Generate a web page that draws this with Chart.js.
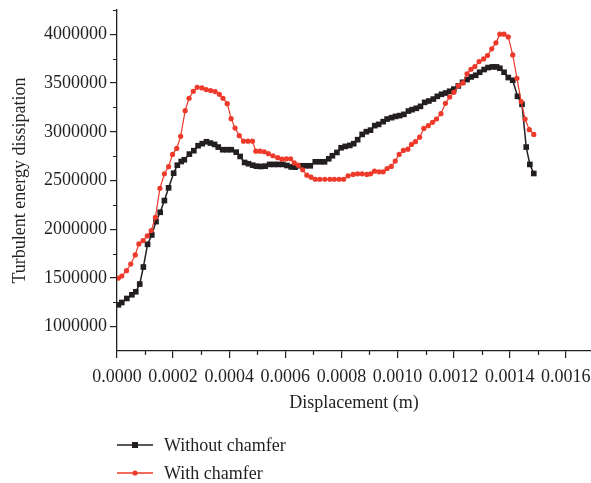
<!DOCTYPE html>
<html>
<head>
<meta charset="utf-8">
<title>Turbulent energy dissipation vs displacement</title>
<script src="https://cdn.jsdelivr.net/npm/chart.js@4/dist/chart.umd.min.js"></script>
<style>
  html, body { margin: 0; padding: 0; background: #ffffff; }
  #wrap { position: relative; width: 591px; height: 483px; }
  #chart { position: absolute; left: 0; top: 0; }
  .key { position: absolute; left: 117px; height: 20px; display: flex; align-items: center;
         font-family: "Liberation Serif", "Times New Roman", serif; font-size: 18px; color: #231f20;
         white-space: nowrap; }
  .key svg { display: block; margin-right: 11px; }
</style>
</head>
<body>
<div id="wrap">
  <canvas id="chart" width="591" height="483"></canvas>
  <div class="key" style="top:435px">
    <svg width="36" height="10"><line x1="0" y1="5" x2="36" y2="5" stroke="#231f20" stroke-width="1.5"/><rect x="15" y="2" width="6" height="6" fill="#231f20"/></svg>
    <span>Without chamfer</span>
  </div>
  <div class="key" style="top:463px">
    <svg width="36" height="10"><line x1="0" y1="5" x2="36" y2="5" stroke="#ee3a2a" stroke-width="1.3"/><circle cx="18" cy="5" r="2.6" fill="#ee3a2a"/></svg>
    <span>With chamfer</span>
  </div>
</div>
<script>
// Displacement (m) and turbulent energy dissipation for the plain edge
const displacementWithout = [
  0.000005, 0.000017, 0.000035, 0.000053, 0.000067, 0.000081, 0.000094, 0.000109, 0.000124, 0.000139,
  0.000154, 0.000169, 0.000184, 0.000202, 0.000215, 0.000229, 0.000240, 0.000258, 0.000274, 0.000289,
  0.000304, 0.000319, 0.000333, 0.000348, 0.000361, 0.000377, 0.000392, 0.000407, 0.000425, 0.000439,
  0.000455, 0.000469, 0.000484, 0.000497, 0.000513, 0.000528, 0.000544, 0.000560, 0.000575, 0.000591,
  0.000606, 0.000621, 0.000635, 0.000653, 0.000671, 0.000689, 0.000707, 0.000725, 0.000740, 0.000755,
  0.000768, 0.000784, 0.000799, 0.000814, 0.000830, 0.000844, 0.000858, 0.000874, 0.000889, 0.000904,
  0.000919, 0.000933, 0.000949, 0.000963, 0.000979, 0.000993, 0.001008, 0.001023, 0.001039, 0.001052,
  0.001067, 0.001082, 0.001097, 0.001112, 0.001128, 0.001142, 0.001157, 0.001172, 0.001186, 0.001201,
  0.001217, 0.001232, 0.001248, 0.001263, 0.001279, 0.001293, 0.001309, 0.001323, 0.001339, 0.001353,
  0.001365, 0.001380, 0.001395, 0.001411, 0.001428, 0.001444, 0.001459, 0.001472, 0.001486
];
const dissipationWithout = [
  1224000, 1248000, 1289000, 1327000, 1358000, 1437000, 1612000, 1845000, 1941000, 2078000,
  2174000, 2294000, 2425000, 2575000, 2657000, 2695000, 2713000, 2771000, 2806000, 2857000,
  2878000, 2898000, 2884000, 2870000, 2843000, 2816000, 2816000, 2816000, 2791000, 2747000,
  2685000, 2672000, 2657000, 2647000, 2644000, 2647000, 2665000, 2665000, 2665000, 2665000,
  2654000, 2639000, 2637000, 2651000, 2651000, 2651000, 2692000, 2692000, 2692000, 2723000,
  2754000, 2788000, 2836000, 2850000, 2860000, 2878000, 2919000, 2973000, 3001000, 3017000,
  3063000, 3076000, 3104000, 3131000, 3145000, 3158000, 3166000, 3179000, 3213000, 3227000,
  3241000, 3261000, 3302000, 3316000, 3336000, 3364000, 3385000, 3398000, 3416000, 3438000,
  3471000, 3508000, 3536000, 3563000, 3580000, 3611000, 3639000, 3659000, 3666000, 3666000,
  3652000, 3611000, 3557000, 3529000, 3364000, 3282000, 2843000, 2665000, 2572000
];

// Displacement (m) and turbulent energy dissipation for the chamfered edge
const displacementWith = [
  0.000005, 0.000017, 0.000034, 0.000049, 0.000065, 0.000078, 0.000093, 0.000108, 0.000122, 0.000137,
  0.000153, 0.000169, 0.000184, 0.000198, 0.000213, 0.000227, 0.000243, 0.000257, 0.000272, 0.000286,
  0.000303, 0.000318, 0.000334, 0.000350, 0.000365, 0.000378, 0.000393, 0.000407, 0.000421, 0.000436,
  0.000451, 0.000467, 0.000483, 0.000495, 0.000510, 0.000525, 0.000540, 0.000556, 0.000573, 0.000588,
  0.000604, 0.000619, 0.000632, 0.000646, 0.000662, 0.000677, 0.000692, 0.000707, 0.000723, 0.000741,
  0.000759, 0.000775, 0.000792, 0.000808, 0.000824, 0.000842, 0.000858, 0.000874, 0.000891, 0.000904,
  0.000918, 0.000934, 0.000949, 0.000963, 0.000978, 0.000992, 0.001006, 0.001021, 0.001037, 0.001050,
  0.001064, 0.001079, 0.001094, 0.001110, 0.001125, 0.001139, 0.001155, 0.001171, 0.001186, 0.001201,
  0.001217, 0.001233, 0.001248, 0.001262, 0.001276, 0.001291, 0.001307, 0.001321, 0.001336, 0.001351,
  0.001365, 0.001380, 0.001395, 0.001411, 0.001426, 0.001441, 0.001455, 0.001470, 0.001486
];
const dissipationWith = [
  1499000, 1520000, 1574000, 1643000, 1736000, 1849000, 1883000, 1931000, 1986000, 2122000,
  2420000, 2569000, 2642000, 2768000, 2829000, 2953000, 3217000, 3344000, 3416000, 3457000,
  3450000, 3433000, 3423000, 3413000, 3385000, 3344000, 3289000, 3135000, 3038000, 2960000,
  2904000, 2904000, 2904000, 2801000, 2801000, 2795000, 2775000, 2754000, 2734000, 2719000,
  2722000, 2723000, 2680000, 2657000, 2610000, 2555000, 2534000, 2513000, 2513000, 2513000,
  2513000, 2513000, 2513000, 2513000, 2548000, 2562000, 2569000, 2569000, 2562000, 2569000,
  2596000, 2589000, 2589000, 2623000, 2644000, 2699000, 2768000, 2809000, 2822000, 2870000,
  2898000, 2945000, 3035000, 3063000, 3097000, 3131000, 3186000, 3292000, 3357000, 3405000,
  3474000, 3502000, 3595000, 3642000, 3670000, 3721000, 3748000, 3783000, 3851000, 3913000,
  4002000, 4002000, 3974000, 3789000, 3549000, 3310000, 3131000, 3022000, 2973000
];

// Labelled (major) and unlabelled (minor) tick positions
const xMajorTicks = [0, 0.0002, 0.0004, 0.0006, 0.0008, 0.0010, 0.0012, 0.0014, 0.0016];
const xMinorTicks = [0.0001, 0.0003, 0.0005, 0.0007, 0.0009, 0.0011, 0.0013, 0.0015];
const yMajorTicks = [1000000, 1500000, 2000000, 2500000, 3000000, 3500000, 4000000];
const yMinorTicks = [1250000, 1750000, 2250000, 2750000, 3250000, 3750000, 4250000];

const INK = '#231f20';
const RED = '#ee3a2a';
const FONT = '"Liberation Serif", "Times New Roman", serif';

const pairs = (xs, ys) => xs.map((x, i) => ({ x, y: ys[i] }));

// Short outward ticks between the labelled ones
const minorTickPlugin = {
  id: 'minorTicks',
  afterDraw(chart) {
    const { ctx, chartArea, scales } = chart;
    ctx.save();
    ctx.strokeStyle = INK;
    ctx.lineWidth = 1.2;
    ctx.beginPath();
    xMinorTicks.forEach(v => {
      const px = Math.round(scales.x.getPixelForValue(v)) + 0.5;
      ctx.moveTo(px, chartArea.bottom);
      ctx.lineTo(px, chartArea.bottom + 4);
    });
    yMinorTicks.forEach(v => {
      const py = Math.round(scales.y.getPixelForValue(v)) + 0.5;
      ctx.moveTo(chartArea.left, py);
      ctx.lineTo(chartArea.left - 4, py);
    });
    ctx.stroke();
    ctx.restore();
  }
};

new Chart(document.getElementById('chart'), {
  type: 'line',
  data: {
    datasets: [
      {
        label: 'Without chamfer',
        data: pairs(displacementWithout, dissipationWithout),
        borderColor: INK,
        backgroundColor: INK,
        borderWidth: 1.5,
        pointStyle: 'rect',
        pointRadius: 4,
        pointBorderWidth: 0,
        pointBackgroundColor: INK,
        tension: 0,
        order: 1
      },
      {
        label: 'With chamfer',
        data: pairs(displacementWith, dissipationWith),
        borderColor: RED,
        backgroundColor: RED,
        borderWidth: 1.2,
        pointStyle: 'circle',
        pointRadius: 2.6,
        pointBorderWidth: 0,
        pointBackgroundColor: RED,
        tension: 0,
        order: 0
      }
    ]
  },
  options: {
    responsive: false,
    animation: false,
    devicePixelRatio: 1,
    layout: { autoPadding: false, padding: { top: 10, right: 0, left: 0, bottom: 0 } },
    plugins: { legend: { display: false }, tooltip: { enabled: false } },
    scales: {
      x: {
        type: 'linear',
        min: 0,
        max: 0.00169,
        afterFit(scale) {
          scale.height = 132;
          scale.paddingLeft = 0;
          scale.paddingRight = 0;
        },
        afterBuildTicks(scale) { scale.ticks = xMajorTicks.map(value => ({ value })); },
        grid: { display: true, drawOnChartArea: false, drawTicks: true, tickLength: 7, color: INK, lineWidth: 1.2 },
        border: { display: true, color: INK, width: 1.3 },
        ticks: {
          color: INK,
          font: { family: FONT, size: 18 },
          padding: 8,
          maxRotation: 0,
          autoSkip: false,
          callback: v => Number(v).toFixed(4)
        },
        title: {
          display: true,
          text: 'Displacement (m)',
          color: INK,
          font: { family: FONT, size: 18 },
          padding: { top: 0, bottom: 69 }
        }
      },
      y: {
        type: 'linear',
        min: 750000,
        max: 4250000,
        afterFit(scale) {
          scale.width = 117;
          scale.paddingTop = 0;
          scale.paddingBottom = 0;
        },
        afterBuildTicks(scale) { scale.ticks = yMajorTicks.map(value => ({ value })); },
        grid: { display: true, drawOnChartArea: false, drawTicks: true, tickLength: 7, color: INK, lineWidth: 1.2 },
        border: { display: true, color: INK, width: 1.3 },
        ticks: {
          color: INK,
          font: { family: FONT, size: 18 },
          padding: 3,
          autoSkip: false,
          callback: v => String(v)
        },
        title: {
          display: true,
          text: 'Turbulent energy dissipation',
          color: INK,
          font: { family: FONT, size: 18 },
          padding: { top: 9, bottom: 0 }
        }
      }
    }
  },
  plugins: [minorTickPlugin]
});
</script>
</body>
</html>
